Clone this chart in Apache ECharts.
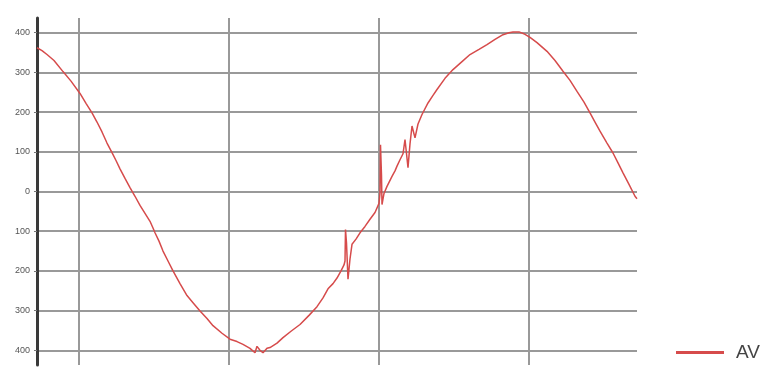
<!DOCTYPE html>
<html>
<head>
<meta charset="utf-8">
<script src="https://cdn.jsdelivr.net/npm/echarts@6/dist/echarts.min.js"></script>
<style>html,body{margin:0;padding:0;background:#fff;}#c{width:776px;height:371px;}</style>
</head>
<body>
<div id="c"></div>
<script>
// sample positions (time units) and AV values
var times = [0,5,10,17,26,34,43,49,55,60,65,70,75,79,83,88,93,98,103,108,113,116,118,122,126,131,136,143,150,156,163,170,176,185,193,200,206,213,218,220,223,226,230,233,240,246,254,263,272,280,286,291,296,300,304,307,308,308.5,309.5,311,313,315,319,323,328,333,338,342,343,343.5,344.5,345,347,350,355,358,360,363,366,368,371,373,375,378,381,385,391,396,400,408,416,425,433,442,450,458,466,472,476,482,488,493,500,510,518,526,533,540,547,553,558,563,570,576,581,586,592,598,600];
var av = [362,355,345,330,302,278,247,222,198,175,150,122,98,78,57,33,10,-12,-35,-55,-75,-92,-104,-125,-150,-175,-200,-232,-262,-280,-301,-320,-338,-357,-372,-378,-385,-395,-406,-390,-400,-406,-395,-393,-382,-368,-352,-335,-312,-290,-268,-245,-232,-218,-200,-185,-175,-96,-130,-221,-170,-133,-120,-104,-88,-70,-53,-30,-5,118,40,-33,-5,13,38,52,64,80,95,131,60,120,165,135,170,194,223,242,257,285,307,327,345,358,370,383,395,400,402,402,396,388,375,353,330,303,280,252,225,198,175,152,122,97,72,47,18,-12,-18];
var yTicks = [-400,-300,-200,-100,0,100,200,300,400];
var xTicks = [42,192,342,492];
var seriesName = 'AV';

var data = times.map(function(t,i){return [t, av[i]];});
var chart = echarts.init(document.getElementById('c'));
chart.setOption({
  animation: false,
  backgroundColor: '#fff',
  grid: {left: 37, right: 139, top: 18, bottom: 6},
  legend: {
    data: [seriesName], left: 671, top: 338,
    icon: 'rect', itemWidth: 48, itemHeight: 3,
    textStyle: {fontSize: 19, color: '#444', fontFamily: 'Liberation Sans', padding: [0,0,0,7]}
  },
  xAxis: {
    type: 'value', min: 0, max: 600,
    axisLine: {show: false},
    axisLabel: {show: false},
    axisTick: {show: false, customValues: xTicks},
    splitLine: {show: true, lineStyle: {color: '#999', width: 2}}
  },
  yAxis: {
    type: 'value', min: -437, max: 437,
    axisLine: {show: true, lineStyle: {color: '#3a3a3a', width: 3}},
    axisTick: {show: true, length: 3, lineStyle: {color: '#777', width: 1}, customValues: yTicks},
    minorTick: {show: false},
    axisLabel: {show: true, customValues: yTicks, margin: 7, fontSize: 9, color: '#555', fontFamily: 'Liberation Sans',
      formatter: function(v){return String(Math.abs(v));}},
    splitLine: {show: true, lineStyle: {color: '#999', width: 2}}
  },
  series: [{
    name: seriesName, type: 'line', data: data, symbol: 'none', smooth: false,
    lineStyle: {color: '#d64b4b', width: 1.5}, itemStyle: {color: '#d64b4b'}
  }]
});
</script>
</body>
</html>
